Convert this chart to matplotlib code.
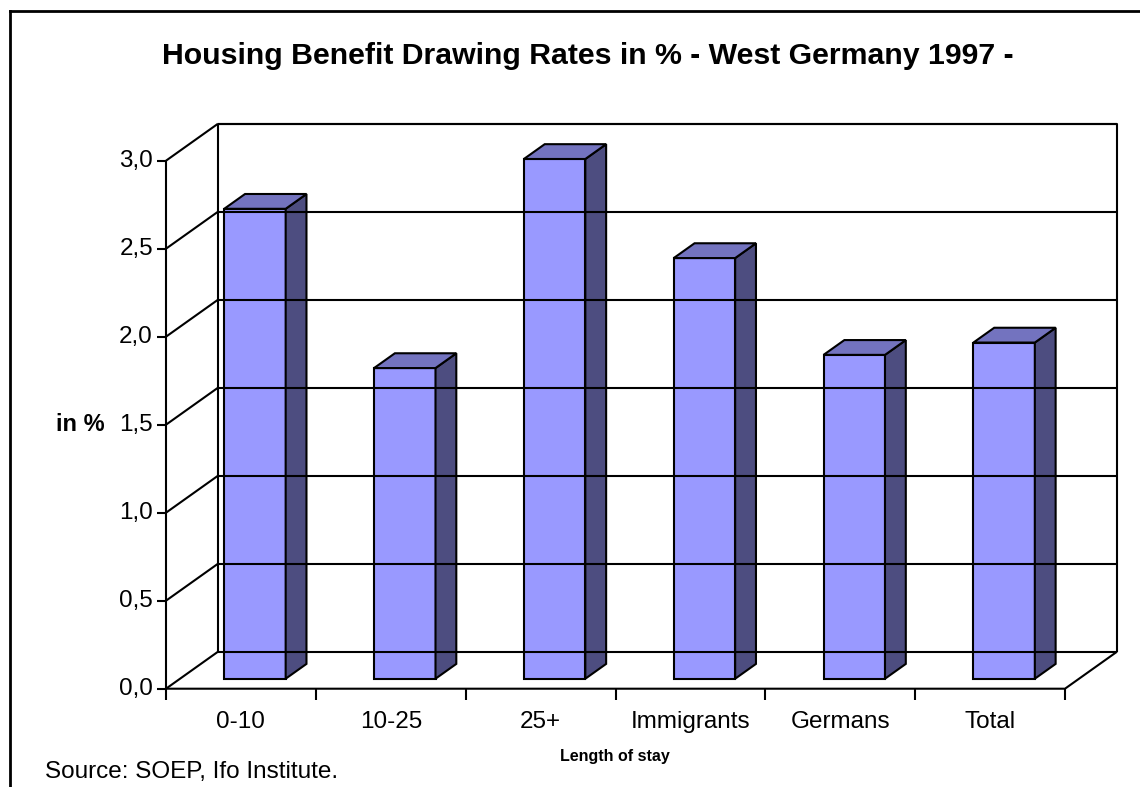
import matplotlib.pyplot as plt
from matplotlib.patches import Polygon
from matplotlib.lines import Line2D

plt.rcParams['font.family'] = ['Liberation Sans', 'DejaVu Sans']

categories = ['0-10', '10-25', '25+', 'Immigrants', 'Germans', 'Total']
rates = [2.67, 1.765, 2.953, 2.39, 1.84, 1.91]
yticks = [0.0, 0.5, 1.0, 1.5, 2.0, 2.5, 3.0]
ytick_labels = ['0,0', '0,5', '1,0', '1,5', '2,0', '2,5', '3,0']

W, H = 1140, 787
# front plane in pixels: x 166..1065 for 6 categories, value 0 at y=688.7, 176 px per unit
px_x = (1065 - 166) / len(categories)
px_y = 176.0
x0_px, y0_px = 166, 688.7

# oblique depth vector in data units
DX = 52 / px_x
DY = 37 / px_y
bar_d0, bar_d1 = 0.27, 0.67
bar_w = 0.41

front = '#9999ff'
top = '#7373bf'
side = '#4d4d80'

fig = plt.figure(figsize=(W / 100, H / 100), dpi=100)
ax = fig.add_axes([0, 0, 1, 1])
ax.set_xlim(-x0_px / px_x, (W - x0_px) / px_x)
ax.set_ylim(-(H - y0_px) / px_y, y0_px / px_y)
ax.axis('off')

n = len(categories)
ymax = yticks[-1]
lw = 1.5

def line(xs, ys, **kw):
    ax.plot(xs, ys, color='black', lw=kw.pop('lw', lw), solid_capstyle='butt', **kw)

# back wall gridlines and left wall diagonals
for v in yticks:
    line([DX, n + DX], [v + DY, v + DY])
    line([0, DX], [v, v + DY])
# wall frame
line([DX, DX], [DY, ymax + DY])
line([DX, n + DX, n + DX], [ymax + DY, ymax + DY, DY])
# floor
line([0, n, n + DX], [0, 0, DY])

# bars
for i, v in enumerate(rates):
    cx = i + 0.5
    l = cx - bar_w / 2 + bar_d0 * DX
    r = cx + bar_w / 2 + bar_d0 * DX
    b = bar_d0 * DY
    t = v + bar_d0 * DY
    ddx = (bar_d1 - bar_d0) * DX
    ddy = (bar_d1 - bar_d0) * DY
    faces = [
        ([(l, b), (r, b), (r, t), (l, t)], front),
        ([(r, b), (r + ddx, b + ddy), (r + ddx, t + ddy), (r, t)], side),
        ([(l, t), (r, t), (r + ddx, t + ddy), (l + ddx, t + ddy)], top),
    ]
    for pts, c in faces:
        ax.add_patch(Polygon(pts, closed=True, facecolor=c, edgecolor='black',
                             lw=lw, joinstyle='miter'))

# value axis
line([0, 0], [0, ymax])
tick_len_x = 9 / px_x
tick_len_y = 11 / px_y
for v, s in zip(yticks, ytick_labels):
    line([-tick_len_x, 0], [v, v])
    ax.text(-13 / px_x, v, s, ha='right', va='center', fontsize=17.5)

# category axis
for i in range(n + 1):
    line([i, i], [0, -tick_len_y])
for i, c in enumerate(categories):
    ax.text(i + 0.5, -(722 - y0_px) / px_y, c, ha='center', va='center', fontsize=17.5)

ax.text(-(166 - 80) / px_x, 1.5, 'in %', ha='center', va='center',
        fontsize=17, fontweight='bold')

fig.text(588 / W, 1 - 56 / H, 'Housing Benefit Drawing Rates in % - West Germany 1997 -',
         ha='center', va='center', fontsize=21.8, fontweight='bold')
fig.text(615 / W, 1 - 757 / H, 'Length of stay', ha='center', va='center',
         fontsize=11.5, fontweight='bold')
fig.text(45 / W, 1 - 772 / H, 'Source: SOEP, Ifo Institute.', ha='left', va='center',
         fontsize=17.5)

# outer border (left and top edges)
fig.add_artist(Line2D([10 / W, 10 / W], [0, 1 - 11 / H], color='black', lw=2,
                      transform=fig.transFigure))
fig.add_artist(Line2D([10 / W, 1], [1 - 11 / H, 1 - 11 / H], color='black', lw=2,
                      transform=fig.transFigure))

fig.savefig('out.png', dpi=100)
